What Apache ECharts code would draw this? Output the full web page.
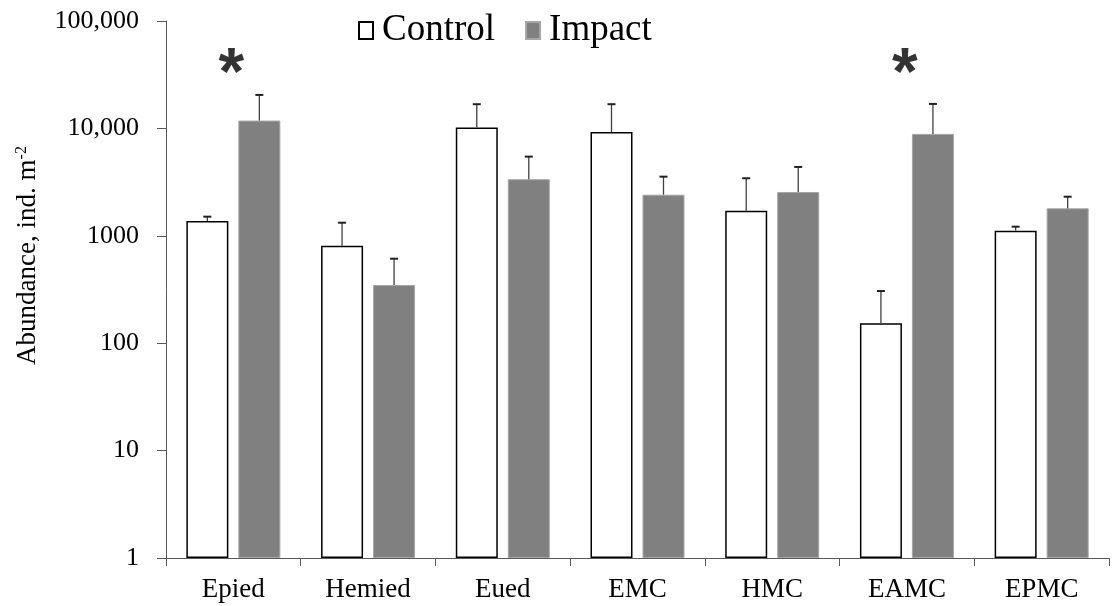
<!DOCTYPE html>
<html>
<head>
<meta charset="utf-8">
<script src="https://cdn.jsdelivr.net/npm/echarts@6/dist/echarts.min.js"></script>
<style>
html,body{margin:0;padding:0;background:#fff;}
#chart{width:1115px;height:606px;}
</style>
</head>
<body>
<div id="chart"></div>
<script>
const categories = ['Epied', 'Hemied', 'Eued', 'EMC', 'HMC', 'EAMC', 'EPMC'];
const controlMean = [1374, 809, 10170, 9270, 1714, 153, 1116];
const controlUpper = [1507, 1324, 16800, 16800, 3434, 306, 1216];
const impactMean = [11830, 348, 3363, 2415, 2559, 8890, 1803];
const impactUpper = [20500, 612, 5460, 3554, 4375, 16900, 2312];
const yTickValues = [1, 10, 100, 1000, 10000, 100000];
const yTickLabels = ['1', '10', '100', '1000', '10,000', '100,000'];
const significantCats = ['Epied', 'EAMC'];
const starLevel = 40000;

const SERIF = 'Liberation Serif, Times New Roman, serif';
const BAR_W = 42;
const BAR_GAP = 10;
const OFFSET = (BAR_W + BAR_GAP) / 2;

function errorSeries(upper, mean, dir) {
  return {
    type: 'custom',
    silent: true,
    z: 5,
    renderItem: function (params, api) {
      const idx = api.value(0);
      const base = api.coord([idx, api.value(1)]);
      const top = api.coord([idx, api.value(2)]);
      const x = base[0] + dir * OFFSET;
      const half = 4;
      return {
        type: 'group',
        children: [
          { type: 'line', shape: { x1: x, y1: base[1], x2: x, y2: top[1] },
            style: { stroke: '#404040', lineWidth: 1.3 } },
          { type: 'line', shape: { x1: x - half, y1: top[1], x2: x + half, y2: top[1] },
            style: { stroke: '#202020', lineWidth: 2 } }
        ]
      };
    },
    data: categories.map((c, i) => [i, mean[i], upper[i]])
  };
}

const chart = echarts.init(document.getElementById('chart'));
chart.setOption({
  animation: false,
  backgroundColor: '#fff',
  textStyle: { fontFamily: SERIF, color: '#000' },
  grid: { left: 166, right: 6, top: 21, bottom: 48, containLabel: false },
  legend: {
    left: 353,
    top: 7,
    icon: 'rect',
    itemWidth: 14,
    itemHeight: 17,
    itemGap: 30,
    data: ['Control', 'Impact'],
    textStyle: { fontFamily: SERIF, fontSize: 37, color: '#000', padding: [0, 0, 0, 4] }
  },
  xAxis: {
    type: 'category',
    data: categories,
    axisLine: { lineStyle: { color: '#595959', width: 1 } },
    axisTick: { show: true, length: 8, lineStyle: { color: '#595959' } },
    axisLabel: { fontFamily: SERIF, fontSize: 27, color: '#000', margin: 18 }
  },
  yAxis: {
    type: 'log',
    logBase: 10,
    min: 1,
    max: 100000,
    name: '{a|Abundance, ind. m}{s|-2}',
    nameLocation: 'middle',
    nameGap: 124,
    nameRotate: 90,
    nameTextStyle: {
      fontFamily: SERIF,
      padding: [0, 0, 0, 68],
      rich: {
        a: { fontFamily: SERIF, fontSize: 27, color: '#000' },
        s: { fontFamily: SERIF, fontSize: 16, color: '#000', verticalAlign: 'top', padding: [0, 0, 12, 0] }
      }
    },
    axisLine: { show: true, lineStyle: { color: '#595959', width: 1 } },
    axisTick: { show: true, length: 9, lineStyle: { color: '#595959' } },
    minorTick: { show: false },
    splitLine: { show: false },
    axisLabel: {
      fontFamily: SERIF, fontSize: 26, color: '#000', margin: 27,
      formatter: function (v) {
        const i = yTickValues.findIndex(t => Math.abs(t - v) / t < 1e-6);
        return i >= 0 ? yTickLabels[i] : '';
      }
    }
  },
  series: [
    {
      name: 'Control',
      type: 'bar',
      barWidth: BAR_W,
      barGap: (BAR_GAP / BAR_W * 100) + '%',
      itemStyle: { color: '#ffffff', borderColor: '#000000', borderWidth: 1.5 },
      data: controlMean
    },
    {
      name: 'Impact',
      type: 'bar',
      barWidth: BAR_W,
      itemStyle: { color: '#808080', borderColor: '#a6a6a6', borderWidth: 1 },
      data: impactMean
    },
    errorSeries(controlUpper, controlMean, -1),
    errorSeries(impactUpper, impactMean, 1),
    {
      type: 'scatter',
      symbolSize: 0,
      silent: true,
      itemStyle: { color: '#000' },
      data: significantCats.map(c => [c, starLevel]),
      label: {
        show: true,
        position: 'inside',
        formatter: '*',
        fontFamily: 'Liberation Sans, Arial, sans-serif',
        fontWeight: 'bold',
        fontSize: 66,
        color: '#000',
        textBorderWidth: 0,
        offset: [-2, 12]
      }
    }
  ]
});
</script>
</body>
</html>
